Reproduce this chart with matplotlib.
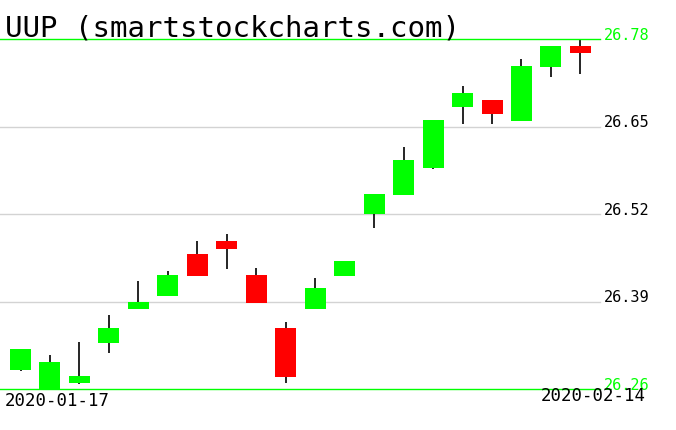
import matplotlib
matplotlib.use("Agg")
from matplotlib import pyplot as plt
import matplotlib.transforms as mtransforms

# daily bars, 2020-01-17 .. 2020-02-14
opens  = [26.288, 26.260, 26.269, 26.328, 26.379, 26.398, 26.461, 26.480, 26.429, 26.351,
          26.379, 26.428, 26.520, 26.548, 26.588, 26.679, 26.689, 26.658, 26.738, 26.770]
closes = [26.319, 26.300, 26.279, 26.351, 26.389, 26.429, 26.428, 26.468, 26.388, 26.278,
          26.410, 26.450, 26.550, 26.600, 26.660, 26.700, 26.669, 26.740, 26.770, 26.759]
highs  = [26.320, 26.311, 26.330, 26.370, 26.420, 26.435, 26.480, 26.490, 26.440, 26.360,
          26.425, 26.450, 26.550, 26.620, 26.660, 26.710, 26.689, 26.750, 26.770, 26.780]
lows   = [26.287, 26.260, 26.268, 26.313, 26.379, 26.398, 26.428, 26.438, 26.388, 26.269,
          26.379, 26.428, 26.499, 26.548, 26.587, 26.654, 26.654, 26.658, 26.724, 26.728]
first_date = "2020-01-17"
last_date = "2020-02-14"
title = "UUP (smartstockcharts.com)"

GREEN = "#00ff00"
RED = "#ff0000"
W, H = 676, 431

fig = plt.figure(figsize=(W / 100, H / 100), dpi=100)
ax = fig.add_axes([0, 0, 1, 1])
ax.axis("off")

# pixel layout of the original
x0_px, step_px = 20.5, 29.47
top_px, bot_px = 40, 390
hi, lo = max(highs), min(lows)
ppp = (bot_px - top_px) / (hi - lo)
ax.set_xlim(-x0_px / step_px, (W - x0_px) / step_px)
ax.set_ylim(lo - (H - bot_px) / ppp, hi + top_px / ppp)

xs = list(range(len(opens)))
colors = [GREEN if c >= o else RED for o, c in zip(opens, closes)]
bottoms = [min(o, c) for o, c in zip(opens, closes)]
heights = [max(abs(c - o), 0.002) for o, c in zip(opens, closes)]

ax.vlines(xs, lows, highs, color="black", linewidth=1.2, zorder=2)
ax.bar(xs, heights, bottom=bottoms, width=0.713, color=colors, linewidth=0, zorder=3)

# horizontal levels
levels = [lo + i * (hi - lo) / 4 for i in range(5)]
trans = mtransforms.blended_transform_factory(ax.transAxes, ax.transData)
for i, lv in enumerate(levels):
    edge = i in (0, 4)
    col = GREEN if edge else "#d3d3d3"
    ax.axhline(lv, xmin=0, xmax=600 / W, color=col, linewidth=1.0, zorder=4 if edge else 1)
    ax.text(604 / W, lv, f"{lv:.2f}", transform=trans, ha="left", va="baseline",
            fontsize=11, family="DejaVu Sans Mono", color=GREEN if edge else "black")

fig.text(5 / W, 1 - 37 / H, title, ha="left", va="baseline",
         fontsize=21, family="DejaVu Sans Mono", color="black")
fig.text(5 / W, 1 - 406 / H, first_date, ha="left", va="baseline",
         fontsize=12.5, family="DejaVu Sans Mono", color="black")
fig.text(646 / W, 1 - 401 / H, last_date, ha="right", va="baseline",
         fontsize=12.5, family="DejaVu Sans Mono", color="black")

fig.savefig("out.png", dpi=100, facecolor="white")
